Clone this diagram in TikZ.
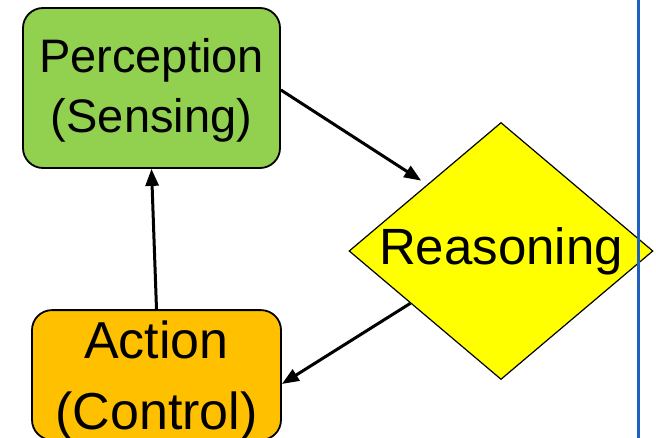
\documentclass[tikz,border=0pt]{standalone}
\usepackage{fontspec}
\setmainfont{Liberation Sans}
\usetikzlibrary{shapes.geometric,arrows.meta}
\definecolor{boxgreen}{HTML}{92D050}
\definecolor{boxorange}{HTML}{FFC000}
\definecolor{boxyellow}{HTML}{FFFF00}
\definecolor{rulerblue}{HTML}{1F5FC0}
\tikzset{
  stagebox/.style={draw=black, line width=1.8pt, rounded corners=20pt,
    align=center, inner sep=0pt},
  flow/.style={draw=black, line width=3pt,
    -{Triangle[length=17pt,width=13pt]}},
}
\begin{document}
\begin{tikzpicture}[x=1pt,y=-1pt]
  \useasboundingbox (0,0) rectangle (656,438);
  % process stages
  \node[stagebox, fill=boxgreen, minimum width=257pt, minimum height=160pt,
        font=\fontsize{47}{60}\selectfont] (perc) at (151.5,88)
        {\rule{0pt}{38pt}Perception\\(Sensing)};
  \node[stagebox, fill=boxorange, minimum width=249pt, minimum height=124pt,
        font=\fontsize{52}{71}\selectfont] (act) at (156.5,375)
        {\rule{0pt}{48pt}Action\\(Control)};
  \node[diamond, draw=black, line width=1.2pt, fill=boxyellow, inner sep=0pt,
        aspect=1.183, minimum width=304pt, minimum height=257pt,
        font=\fontsize{51}{60}\selectfont] (reason) at (501,251) {Reasoning};
  % loop connectors
  \draw[flow, shorten >=7pt] ([yshift=-2pt]perc.east) -- (reason.138);
  \draw[flow] (reason.210) -- ([yshift=-9pt]act.east);
  \draw[flow] (act.north) -- (perc.south);
  % vertical separator on the right
  \draw[rulerblue, line width=3pt] (638,0) -- (638,438);
\end{tikzpicture}
\end{document}
